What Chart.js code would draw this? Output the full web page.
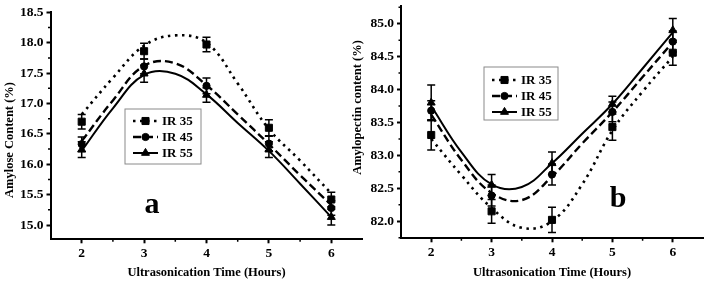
<!DOCTYPE html>
<html>
<head>
<meta charset="utf-8">
<script src="https://cdn.jsdelivr.net/npm/chart.js@4/dist/chart.umd.min.js"></script>
<style>
  html, body { margin: 0; padding: 0; background: #fff; }
  #wrap { position: relative; width: 709px; height: 281px; overflow: hidden; }
  canvas { position: absolute; top: 0; }
  #ca { left: 0; }
  #cb { left: 350px; }
</style>
</head>
<body>
<div id="wrap">
  <canvas id="ca" width="370" height="281"></canvas>
  <canvas id="cb" width="359" height="281"></canvas>
</div>
<script>
// ---- data ----
const hours = [2, 3, 4, 5, 6];
const seriesNames = ['IR 35', 'IR 45', 'IR 55'];
const hourTicks = [2, 3, 4, 5, 6];

// (a) amylose content, %
const amylose35 = [16.70, 17.86, 17.97, 16.60, 15.42];
const amylose45 = [16.33, 17.61, 17.29, 16.34, 15.28];
const amylose55 = [16.24, 17.49, 17.14, 16.24, 15.13];
const amyloseErr35 = [0.12, 0.13, 0.12, 0.13, 0.12];
const amyloseErr45 = [0.12, 0.12, 0.13, 0.12, 0.12];
const amyloseErr55 = [0.13, 0.14, 0.12, 0.13, 0.13];
const amyloseTicks = [15.0, 15.5, 16.0, 16.5, 17.0, 17.5, 18.0, 18.5];

// (b) amylopectin content, %
const amylopectin35 = [83.31, 82.15, 82.02, 83.43, 84.56];
const amylopectin45 = [83.68, 82.39, 82.71, 83.66, 84.73];
const amylopectin55 = [83.80, 82.55, 82.88, 83.78, 84.90];
const amylopectinErr35 = [0.23, 0.18, 0.19, 0.20, 0.19];
const amylopectinErr45 = [0.15, 0.16, 0.16, 0.15, 0.16];
const amylopectinErr55 = [0.27, 0.16, 0.17, 0.12, 0.18];
const amylopectinTicks = [82.0, 82.5, 83.0, 83.5, 84.0, 84.5, 85.0];

// smooth fitted curves, every half hour
const fitHours = [2, 2.5, 3, 3.5, 4, 4.5, 5, 5.5, 6];
const amyloseFit35 = [16.82, 17.42, 17.95, 18.12, 18.00, 17.33, 16.58, 16.06, 15.52];
const amyloseFit45 = [16.38, 17.05, 17.62, 17.66, 17.30, 16.82, 16.33, 15.82, 15.33];
const amyloseFit55 = [16.22, 16.92, 17.47, 17.49, 17.15, 16.68, 16.22, 15.68, 15.13];
const amylopectinFit35 = [83.25, 82.70, 82.20, 81.90, 82.00, 82.56, 83.38, 83.97, 84.50];
const amylopectinFit45 = [83.62, 82.93, 82.43, 82.32, 82.68, 83.18, 83.66, 84.19, 84.72];
const amylopectinFit55 = [83.75, 83.05, 82.56, 82.52, 82.88, 83.33, 83.78, 84.32, 84.87];

const SERIF = "'Liberation Serif', 'Times New Roman', serif";
const looks = [
  { dash: [2.5, 4.5], width: 2.6, point: 'rect', r: 5 },
  { dash: [8, 4], width: 2.4, point: 'circle', r: 3.6 },
  { dash: [], width: 2, point: 'triangle', r: 4.6 }
];

function buildSets(vals, errs, fits) {
  const pts = [], lines = [];
  vals.forEach((v, i) => {
    const lk = looks[i];
    pts.push({
      label: seriesNames[i],
      data: hours.map((x, j) => ({ x, y: v[j] })),
      showLine: false,
      pointStyle: lk.point,
      pointRadius: lk.r,
      backgroundColor: '#000',
      borderColor: '#000',
      borderWidth: 1,
      err: errs[i]
    });
    lines.push({
      label: seriesNames[i] + ' fit',
      data: fitHours.map((x, j) => ({ x, y: fits[i][j] })),
      showLine: true,
      borderColor: '#000',
      borderWidth: lk.width,
      borderDash: lk.dash,
      pointRadius: 0,
      tension: 0.4,
      fill: false
    });
  });
  return pts.concat(lines);
}

// error bars, minor ticks, titles, panel letter and the boxed legend
function makeDecor(cfg) {
  return {
    id: 'decor',
    beforeDatasetsDraw(chart) {
      const { ctx, scales: { x, y } } = chart;
      ctx.save();
      ctx.strokeStyle = '#000';
      ctx.lineWidth = 1.5;
      chart.data.datasets.forEach(ds => {
        if (!ds.err) return;
        ds.data.forEach((p, j) => {
          const px = x.getPixelForValue(p.x);
          const top = y.getPixelForValue(p.y + ds.err[j]);
          const bot = y.getPixelForValue(p.y - ds.err[j]);
          ctx.beginPath();
          ctx.moveTo(px, top); ctx.lineTo(px, bot);
          ctx.moveTo(px - 4, top); ctx.lineTo(px + 4, top);
          ctx.moveTo(px - 4, bot); ctx.lineTo(px + 4, bot);
          ctx.stroke();
        });
      });
      ctx.restore();
    },
    afterDraw(chart) {
      const { ctx, scales: { x, y } } = chart;
      ctx.save();
      // minor ticks
      ctx.strokeStyle = '#000';
      ctx.lineWidth = 1.5;
      const axisY = x.top, axisX = y.right;
      ctx.beginPath();
      for (let v = 2.5; v < 6.5; v += 1) {
        const px = x.getPixelForValue(v);
        ctx.moveTo(px, axisY); ctx.lineTo(px, axisY + 2.5);
      }
      cfg.yTicks.forEach(t => {
        [t - 0.25, t + 0.25].forEach(v => {
          if (v < y.min || v > y.max || (v > cfg.yTicks[0] && v < t)) return;
          const py = y.getPixelForValue(v);
          ctx.moveTo(axisX, py); ctx.lineTo(axisX - 2.5, py);
        });
      });
      ctx.stroke();

      // y title
      ctx.fillStyle = '#000';
      ctx.font = 'bold 12.5px ' + SERIF;
      ctx.textAlign = 'center';
      ctx.textBaseline = 'middle';
      ctx.save();
      ctx.translate(cfg.yTitle.x, cfg.yTitle.y);
      ctx.rotate(-Math.PI / 2);
      ctx.fillText(cfg.yTitle.text, 0, 0);
      ctx.restore();

      // panel letter
      ctx.font = 'bold 30px ' + SERIF;
      ctx.textBaseline = 'alphabetic';
      ctx.fillText(cfg.letter.text, cfg.letter.x, cfg.letter.y);

      // legend
      const lg = cfg.legend;
      ctx.strokeStyle = '#8a8a8a';
      ctx.lineWidth = 1;
      ctx.setLineDash([]);
      ctx.strokeRect(lg.x, lg.y, lg.w, lg.h);
      seriesNames.forEach((name, i) => {
        const lk = looks[i];
        const ry = lg.rows[i];
        ctx.strokeStyle = '#000';
        ctx.lineWidth = lk.width;
        ctx.setLineDash(lk.dash);
        ctx.beginPath();
        ctx.moveTo(lg.x0, ry); ctx.lineTo(lg.x1, ry);
        ctx.stroke();
        ctx.setLineDash([]);
        ctx.fillStyle = '#000';
        ctx.lineWidth = 1;
        Chart.helpers.drawPoint(ctx, { pointStyle: lk.point, radius: lk.r, borderWidth: 1 }, (lg.x0 + lg.x1) / 2, ry);
        ctx.font = 'bold 13px ' + SERIF;
        ctx.textAlign = 'left';
        ctx.textBaseline = 'middle';
        ctx.fillText(name, lg.tx, ry + 0.5);
      });
      ctx.restore();
    }
  };
}

function makeChart(id, sets, cfg) {
  const tickFont = { family: SERIF, weight: 'bold', size: 13.5 };
  new Chart(document.getElementById(id), {
    type: 'scatter',
    data: { datasets: sets },
    options: {
      responsive: false,
      animation: false,
      events: [],
      layout: { padding: cfg.padding },
      plugins: { legend: { display: false }, tooltip: { enabled: false } },
      scales: {
        x: {
          type: 'linear', min: 1.5, max: 6.5,
          afterBuildTicks: s => { s.ticks = hourTicks.map(v => ({ value: v })); },
          afterFit: s => { s.height = cfg.xHeight; s.paddingLeft = 0; s.paddingRight = 0; },
          border: { display: true, color: '#000', width: 2 },
          grid: { drawOnChartArea: false, drawTicks: true, tickLength: 4, tickColor: '#000', tickWidth: 2 },
          ticks: { color: '#000', font: tickFont, padding: 2, maxRotation: 0, autoSkip: false },
          title: {
            display: true, text: 'Ultrasonication Time (Hours)', color: '#000',
            font: { family: SERIF, weight: 'bold', size: 12.5 }, padding: { top: 0, bottom: 1 }
          }
        },
        y: {
          type: 'linear', min: cfg.yMin, max: cfg.yMax,
          afterBuildTicks: s => { s.ticks = cfg.yTicks.map(v => ({ value: v })); },
          afterFit: s => { s.width = cfg.yWidth; s.paddingTop = 0; s.paddingBottom = 0; },
          border: { display: true, color: '#000', width: 2 },
          grid: { drawOnChartArea: false, drawTicks: true, tickLength: 4, tickColor: '#000', tickWidth: 2 },
          ticks: { color: '#000', font: tickFont, padding: 3, callback: v => v.toFixed(1) }
        }
      }
    },
    plugins: [makeDecor(cfg)]
  });
}

makeChart('ca',
  buildSets([amylose35, amylose45, amylose55],
            [amyloseErr35, amyloseErr45, amyloseErr55],
            [amyloseFit35, amyloseFit45, amyloseFit55]),
  {
    yMin: 14.765, yMax: 18.5, yTicks: amyloseTicks,
    padding: { left: 0, right: 7.5, top: 12.3, bottom: 0 },
    yWidth: 50.5, xHeight: 41.7,
    yTitle: { text: 'Amylose Content (%)', x: 9.5, y: 140 },
    letter: { text: 'a', x: 152, y: 213 },
    legend: { x: 125, y: 109, w: 76, h: 55, rows: [121, 137, 153], x0: 133, x1: 158, tx: 162 }
  });

makeChart('cb',
  buildSets([amylopectin35, amylopectin45, amylopectin55],
            [amylopectinErr35, amylopectinErr45, amylopectinErr55],
            [amylopectinFit35, amylopectinFit45, amylopectinFit55]),
  {
    yMin: 81.74, yMax: 85.27, yTicks: amylopectinTicks,
    padding: { left: 0, right: 3, top: 1, bottom: 0 },
    yWidth: 51, xHeight: 42.7,
    yTitle: { text: 'Amylopectin content (%)', x: 8, y: 107.5 },
    letter: { text: 'b', x: 268, y: 207 },
    legend: { x: 134, y: 67, w: 74, h: 53, rows: [80, 96, 112], x0: 142, x1: 167, tx: 171 }
  });
</script>
</body>
</html>
